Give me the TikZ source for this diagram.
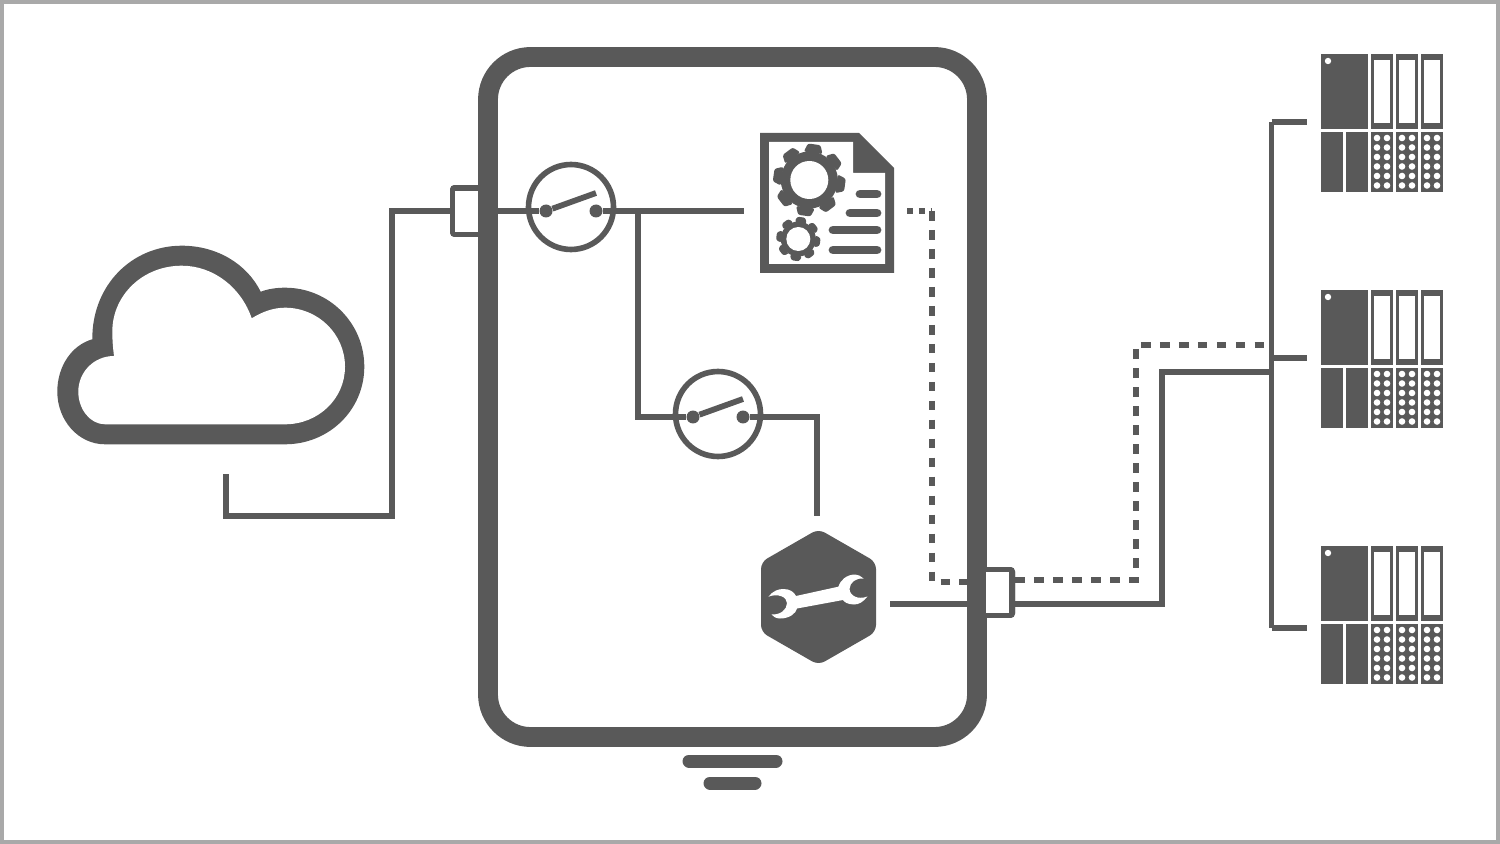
\documentclass[tikz,border=0pt]{standalone}
\usepackage{amsmath,amssymb}
\definecolor{icongray}{HTML}{595959}
\definecolor{framegray}{HTML}{A9A9A9}
\tikzset{
  wire/.style={draw=icongray,line width=3.3pt},
  dashwire/.style={draw=icongray,line width=3.6pt,dash pattern=on 5.5pt off 5.3pt},
  switchring/.style={circle,draw=icongray,line width=3.2pt,minimum size=1.7cm,inner sep=0pt},
  contact/.style={circle,fill=icongray,minimum size=0.26cm,inner sep=0pt},
  portbox/.style={rectangle,fill=icongray,rounded corners=2.5pt,inner sep=0pt,minimum width=0.64cm},
  portwin/.style={rectangle,fill=white,inner sep=0pt,minimum width=0.46cm},
  docbar/.style={draw=icongray,line width=5pt,line cap=round},
  rack/.pic={
    \fill[icongray] (0,0) rectangle (47,75);
    \fill[white] (7,7) circle (3.2);
    \fill[icongray] (0,78) rectangle (22,138);
    \fill[icongray] (25,78) rectangle (47,138);
    \foreach \m in {50,75,100}{
      \fill[icongray] (\m,0) rectangle (\m+22,75);
      \fill[white] (\m+3,6) rectangle (\m+19,69);
      \fill[icongray] (\m,78) rectangle (\m+22,138);
      \foreach \r in {0,...,5}{
        \fill[white] (\m+6,84+9.5*\r) circle (3.3);
        \fill[white] (\m+16,84+9.5*\r) circle (3.3);
      }
    }
  }
}
% gear: centre, outer radius, root radius, hole radius, tooth half width
\newcommand{\geardraw}[5]{
  \begin{scope}[shift={#1}]
    \fill[icongray] (0,0) circle (#3);
    \foreach \a in {0,45,...,315}
      \fill[icongray,rotate=\a-8,rounded corners=1.2pt] (-#5*1.35,-#3+1) -- (-#5*0.9,-#2) -- (#5*0.9,-#2) -- (#5*1.35,-#3+1) -- cycle;
    \fill[white] (0,0) circle (#4);
  \end{scope}
}
\begin{document}
\begin{tikzpicture}[x=0.02cm,y=-0.02cm]
\useasboundingbox (0,0) rectangle (1500,844);
\draw[framegray,line width=2.3pt] (2,2) rectangle (1498,842);

% cloud
\fill[icongray]
  (105,444.3) .. controls (78,444.3) and (57.3,420) .. (57.3,391.7)
  .. controls (57.3,366) and (72,345) .. (92.3,339.3)
  .. controls (92,285) and (132,245.7) .. (181.7,245.7)
  .. controls (217,245.7) and (247,264) .. (260.7,291.7)
  .. controls (268,289) and (276,287.7) .. (285,287.7)
  .. controls (329,287.7) and (364.3,323) .. (364.3,366.7)
  .. controls (364.3,410) and (329,444.3) .. (285,444.3)
  -- cycle;
\fill[white]
  (105,424.3) .. controls (90,424.3) and (78.3,409) .. (78.3,391.7)
  .. controls (78.3,372) and (94,356) .. (114,356)
  .. controls (113,348) and (112.3,340) .. (112.3,331.7)
  .. controls (112.3,295) and (143,265.7) .. (181.7,265.7)
  .. controls (213,265.7) and (241,287) .. (251.7,318.3)
  .. controls (262,312) and (273,307.7) .. (285,307.7)
  .. controls (318,307.7) and (345,334) .. (345,366.7)
  .. controls (345,399) and (318,424.3) .. (285,424.3)
  -- cycle;

% named points of the box
\node[switchring] (swa) at (571,207) {};
\node[switchring] (swb) at (718,414) {};
\node[contact] (swaL) at (546,211) {};
\node[contact] (swaR) at (596,211) {};
\node[contact] (swbL) at (693,417) {};
\node[contact] (swbR) at (743,417) {};
\coordinate (cloudend) at (226,474);
\coordinate (docin) at (744,211);
\coordinate (branch) at (638,211);
\coordinate (toolin) at (817,516);
\coordinate (toolout) at (890,604);
\coordinate (docout) at (907,211);
\coordinate (busA) at (1271.5,122);
\coordinate (busB) at (1271.5,358);
\coordinate (busC) at (1271.5,628);

% wires
\node[portbox,minimum height=1.04cm] (portl) at (466,211) {};
\node[portbox,minimum height=1.02cm] (portr) at (999,592.5) {};
\draw[wire] (cloudend) |- (392,516) |- (portl.west);
\draw[wire] (portl.east) -- (swaL);
\draw[wire] (swaR) -- (docin);
\draw[wire] (branch) |- (swbL);
\draw[wire] (swbR) -| (toolin);
\draw[wire] (swaL) -- ++(50,-18);
\draw[wire] (swbL) -- ++(50,-18);
\draw[wire] (toolout) -- (975,604);
\draw[wire] (portr.east |- 0,604) -- (1162,604) |- (busB |- 0,372);
\draw[dashwire,dash pattern=on 3.5pt off 3.2pt] (docout) -- (932,211);
\draw[dashwire] (932,211) -- (932,582) -- (975,582);
\draw[dashwire] (portr.east |- 0,580) -- (1136,580) |- (busB |- 0,345);
\draw[wire] (busA) -- (busC);
\draw[wire] (busA) -- (1307,122);
\draw[wire] (busB) -- (1307,358);
\draw[wire] (busC) -- (1307,628);

% enclosure and ground
\draw[icongray,line width=11.3pt,rounded corners=0.85cm] (488,57) rectangle (977,737);
\node[portbox,minimum height=1.04cm] at (466,211) {};
\node[portwin,minimum height=0.83cm] (portlin) at (466.7,211.5) {};
\node[portbox,minimum height=1.02cm] at (999,592.5) {};
\node[portwin,minimum height=0.82cm] (portrin) at (997.5,592.5) {};
\draw[icongray,line width=7.4pt,line cap=round] (689,761) -- (776,761);
\draw[icongray,line width=7.4pt,line cap=round] (710,783) -- (755,783);

% document
\fill[icongray] (760,133) -- (859,133) -- (894,168) -- (894,273) -- (760,273) -- cycle;
\fill[white] (769,142) -- (853,142) -- (853,173) -- (885,173) -- (885,264) -- (769,264) -- cycle;
\geardraw{(809.3,180)}{36}{28.5}{19}{7}
\geardraw{(798.3,239)}{22}{17.5}{12}{4.5}
\draw[docbar] (860,194) -- (877,194);
\draw[docbar] (850,213) -- (877,213);
\draw[docbar] (833,230) -- (877,230);
\draw[docbar] (833,250) -- (877,250);

% tool hexagon
\fill[icongray,rounded corners=0.14cm] (818.5,529) -- (876,562) -- (876,632) -- (818.5,665) -- (761,632) -- (761,562) -- cycle;
\fill[white] (768.3,596.7) .. controls (773,591) and (778,589) .. (783.3,589)
  .. controls (790,589) and (794,592) .. (796,596) -- (838.3,586.7)
  .. controls (840,581) and (846,574.5) .. (855,574.5)
  .. controls (858,574.5) and (861,576) .. (863.5,578.5)
  .. controls (856,578) and (850,582) .. (849.5,589)
  .. controls (850,596) and (858,600) .. (867.5,596.5)
  .. controls (863,602) and (859,604.5) .. (854,604.5)
  .. controls (848,604.5) and (844,602) .. (843,600) -- (797,608.5)
  .. controls (796,613) and (790,618.5) .. (780,618.5)
  .. controls (776,618.5) and (773,616.5) .. (771.5,614.5)
  .. controls (780,615) and (787,610) .. (787,603)
  .. controls (787,597) and (778,593) .. (768.3,596.7) -- cycle;

% racks
\pic at (1321,54) {rack};
\pic at (1321,290) {rack};
\pic at (1321,546) {rack};
\end{tikzpicture}
\end{document}
